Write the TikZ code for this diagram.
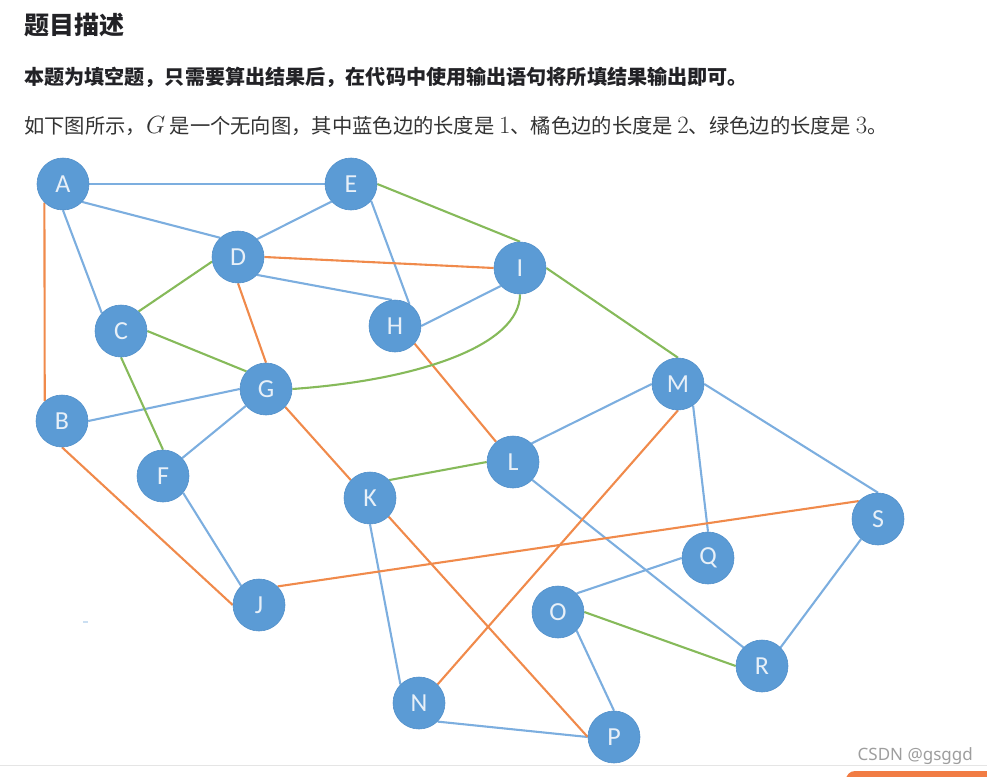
\documentclass[tikz,border=0pt]{standalone}
\usepackage{fontspec}
\usepackage{tikz}
\usetikzlibrary{backgrounds}
\setmainfont{Noto Sans CJK SC}
\newfontfamily\lblfont{Carlito}
\newfontfamily\wmfont{Noto Sans}
\definecolor{nodeblue}{HTML}{5B9BD5}
\definecolor{nodeedge}{HTML}{5290CA}
\definecolor{nodetext}{HTML}{E8F0F8}
\definecolor{edgeblue}{HTML}{7CAEDF}
\definecolor{edgeorange}{HTML}{F08A4B}
\definecolor{edgegreen}{HTML}{86BA5A}
\definecolor{txtdark}{HTML}{222226}
\definecolor{txtbody}{HTML}{333333}
\newcommand\mth[1]{{\fontsize{24}{24}\selectfont$#1$}}

\begin{document}
\begin{tikzpicture}[
  x=1pt, y=-1pt,
  vtx/.style  = {circle, fill=nodeblue, draw=nodeedge, line width=0.6pt,
                 minimum size=52pt, inner sep=0pt, text=nodetext,
                 font=\lblfont\fontsize{26}{26}\selectfont},
  blu/.style  = {draw=edgeblue, line width=2.1pt},
  org/.style  = {draw=edgeorange, line width=2.1pt},
  grn/.style  = {draw=edgegreen, line width=2.1pt},
  hdr/.style  = {anchor=west, inner sep=0pt, text=txtdark},
]
  \useasboundingbox (0,0) rectangle (987,776);

  % header text
  \node[hdr, font=\bfseries\fontsize{25}{30}\selectfont] (title) at (24,25) {题目描述};
  \node[hdr, font=\bfseries\fontsize{20.1}{24}\selectfont] (note) at (24,77)
    {本题为填空题，只需要算出结果后，在代码中使用输出语句将所填结果输出即可。};
  \node[hdr, text=txtbody, font=\fontsize{20.3}{24}\selectfont] (desc) at (24,126)
    {如下图所示，\mth{G} 是一个无向图，其中蓝色边的长度是 \mth{1}、橘色边的长度是 \mth{2}、绿色边的长度是 \mth{3}。};

  % vertices
  \node[vtx] (A) at (63,184)  {A};
  \node[vtx] (E) at (351,184) {E};
  \node[vtx] (D) at (238,257) {D};
  \node[vtx] (I) at (520,268) {I};
  \node[vtx] (C) at (121,331) {C};
  \node[vtx] (H) at (395,326) {H};
  \node[vtx] (G) at (266,389) {G};
  \node[vtx] (M) at (678,384) {M};
  \node[vtx] (B) at (62,421)  {B};
  \node[vtx] (L) at (513,462) {L};
  \node[vtx] (F) at (163,476) {F};
  \node[vtx] (K) at (370,498) {K};
  \node[vtx] (S) at (878,519) {S};
  \node[vtx] (Q) at (708,558) {Q};
  \node[vtx] (J) at (259,605) {J};
  \node[vtx] (O) at (558,612) {O};
  \node[vtx] (R) at (762,666) {R};
  \node[vtx] (N) at (419,703) {N};
  \node[vtx] (P) at (614,737) {P};

  \begin{scope}[on background layer]
    % length 1
    \draw[blu] (A.east)  -- (E.west);
    \draw[blu] (A.-43)   -- (D.133);
    \draw[blu] (A.-90)   -- (C.137);
    \draw[blu] (E.-138)  -- (D.43);
    \draw[blu] (E.-40)   -- (H.57);
    \draw[blu] (D.-43)   -- (H.97);
    \draw[blu] (H.east)  -- (I.-137);
    \draw[blu] (B.east)  -- (G.west);
    \draw[blu] (F.43)    -- (G.-140);
    \draw[blu] (F.-40)   -- (J.133);
    \draw[blu] (L.45)    -- (M.west);
    \draw[blu] (M.-55)   -- (Q.north);
    \draw[blu] (M.east)  -- (S.north);
    \draw[blu] (L.-43)   -- (R.135);
    \draw[blu] (K.south) -- (N.135);
    \draw[blu] (N.-45)   -- (P.west);
    \draw[blu] (O.45)    -- (Q.west);
    \draw[blu] (O.-45)   -- (P.north);
    \draw[blu] (S.-130)  -- (R.45);
    % length 2
    \draw[org] (A.-135)  -- (B.131);
    \draw[org] (D.east)  -- (I.west);
    \draw[org] (D.south) -- (G.north);
    \draw[org] (G.-43)   -- (K.137);
    \draw[org] (H.-42)   -- (L.130);
    \draw[org] (B.south) -- (J.west);
    \draw[org] (J.45)    -- (S.137);
    \draw[org] (M.south) -- (N.45);
    \draw[org] (K.-45)   -- (P.west);
    % length 3
    \draw[grn] (E.east)  -- (I.north);
    \draw[grn] (I.east)  -- (M.north);
    \draw[grn] (C.48)    -- (D.-170);
    \draw[grn] (C.east)  -- (G.138);
    \draw[grn] (C.south) -- (F.north);
    \draw[grn] (K.43)    -- (L.west);
    \draw[grn] (O.east)  -- (R.west);
    \draw[grn] (G.east) .. controls (420,380) and (520,345) .. (I.south);
  \end{scope}

  % page footer
  \fill[edgeblue!40] (83,621) rectangle (88,623);
  \node[anchor=east, inner sep=0pt, text=black!38, font=\wmfont\fontsize{17}{20}\selectfont]
    (mark) at (973,756) {CSDN @gsggd};
  \draw[black!10, line width=1pt] (0,765.5) -- (987,765.5);
  \fill[edgeorange!90!red, rounded corners=9pt] (846,771) rectangle (1010,800);
\end{tikzpicture}
\end{document}
